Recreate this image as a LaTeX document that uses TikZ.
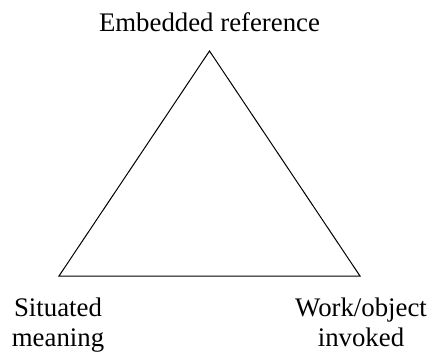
\documentclass[tikz,border=0pt]{standalone}
\usepackage{fontspec}
\setmainfont{Liberation Serif}
\tikzset{
  lbl/.style={inner sep=0pt, align=center, font=\fontsize{26.8}{30}\selectfont},
  edge/.style={line width=1pt, line join=miter}
}
\begin{document}
\begin{tikzpicture}[x=1pt,y=-1pt]
\useasboundingbox (0,0) rectangle (430,352);
\coordinate (top) at (209.5,51);
\coordinate (left) at (59,276);
\coordinate (right) at (360,276);
\draw[edge] (top) -- (left) -- (right) -- cycle;
\node[lbl, anchor=base] (emb) at (209.5,32) {Embedded reference};
\node[lbl, anchor=base] (sit) at (58,346) {Situated\\meaning};
\node[lbl, anchor=base] (work) at (361,346.5) {Work/object\\invoked};
\end{tikzpicture}
\end{document}
